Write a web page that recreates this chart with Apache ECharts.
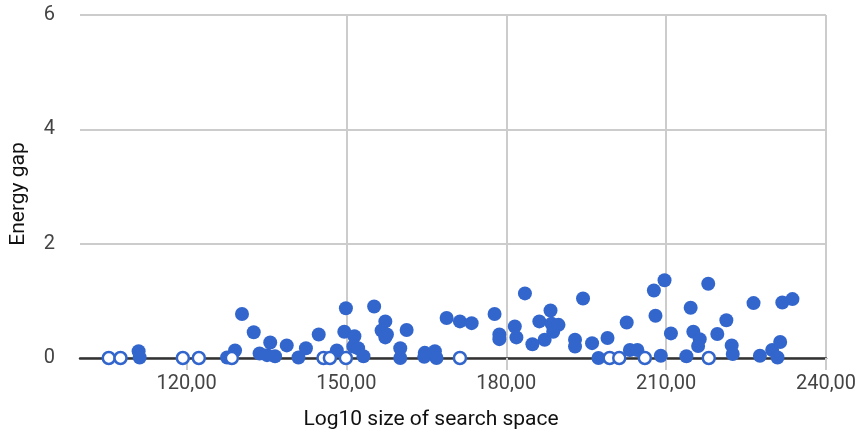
<!DOCTYPE html>
<html>
<head>
<meta charset="utf-8">
<script src="https://cdn.jsdelivr.net/npm/echarts@6/dist/echarts.min.js"></script>
<style>
  html, body { margin: 0; padding: 0; background: #fff; }
  #chart { width: 860px; height: 435px; }
</style>
</head>
<body>
<div id="chart"></div>
<script>
// Instances with a positive energy gap: [log10 search space size, energy gap]
const gapPoints = [
  [111.0, 0.12], [111.2, 0.01], [127.6, 0.01], [129.1, 0.13], [130.4, 0.77],
  [132.6, 0.45], [133.7, 0.08], [135.1, 0.05], [135.7, 0.27], [136.6, 0.03],
  [138.8, 0.22], [141.0, 0.01], [142.4, 0.17], [144.8, 0.41], [148.2, 0.13],
  [149.9, 0.87], [149.6, 0.46], [151.5, 0.38], [151.3, 0.20], [152.2, 0.17],
  [153.2, 0.03], [155.2, 0.90], [157.3, 0.64], [156.6, 0.48], [157.6, 0.41],
  [157.3, 0.36], [161.3, 0.49], [160.1, 0.17], [160.1, 0.00], [164.7, 0.09],
  [164.6, 0.02], [166.6, 0.12], [166.9, 0.00], [168.8, 0.70], [171.3, 0.64],
  [173.5, 0.61], [177.8, 0.77], [178.7, 0.41], [178.7, 0.33], [181.6, 0.55],
  [181.9, 0.36], [183.5, 1.13], [184.9, 0.24], [186.2, 0.64], [187.2, 0.32],
  [188.3, 0.83], [188.5, 0.60], [189.8, 0.58], [188.8, 0.46], [192.9, 0.32],
  [192.9, 0.20], [194.4, 1.04], [196.1, 0.26], [199.0, 0.35], [197.3, 0.00],
  [202.6, 0.62], [203.2, 0.14], [204.6, 0.14], [207.7, 1.18], [208.0, 0.74],
  [209.0, 0.04], [209.7, 1.36], [210.9, 0.43], [213.8, 0.03], [214.6, 0.88],
  [215.1, 0.46], [216.3, 0.33], [216.0, 0.21], [217.9, 1.30], [219.6, 0.42],
  [221.3, 0.66], [222.3, 0.22], [222.5, 0.07], [226.4, 0.96], [227.6, 0.04],
  [229.9, 0.14], [231.4, 0.28], [230.9, 0.01], [231.8, 0.97], [233.7, 1.03]
];

// Instances solved exactly (zero gap)
const zeroPoints = [
  [105.4, 0], [107.6, 0], [119.3, 0], [122.3, 0], [128.5, 0],
  [145.7, 0], [146.9, 0], [149.9, 0], [171.3, 0], [199.4, 0],
  [201.2, 0], [206.0, 0], [218.0, 0]
];

// Axis ranges and tick positions
const xRange = [100, 240];
const xTicks = [120, 150, 180, 210, 240];
const yRange = [0, 6];
const yStep = 2;

const xTitle = 'Log10 size of search space';
const yTitle = 'Energy gap';

const BLUE = '#3366CC';
const labelFont = 'Roboto, "Liberation Sans", Arial, sans-serif';

const chart = echarts.init(document.getElementById('chart'), null, { renderer: 'canvas' });

chart.setOption({
  animation: false,
  backgroundColor: '#ffffff',
  grid: { left: 78, right: 34, top: 15, bottom: 75 },
  xAxis: {
    type: 'value',
    min: xRange[0],
    max: xRange[1],
    name: xTitle,
    nameLocation: 'middle',
    nameGap: 51,
    nameTextStyle: { fontFamily: labelFont, fontSize: 21, color: '#111', padding: [0, 44, 0, 0] },
    axisLine: { show: true, onZero: true, lineStyle: { color: '#333', width: 2.5 } },
    axisTick: { show: true, customValues: xTicks, length: 12, lineStyle: { color: '#ccc', width: 2 } },
    axisLabel: {
      customValues: xTicks,
      margin: 16,
      fontFamily: labelFont,
      fontSize: 20,
      color: '#444',
      formatter: v => v.toFixed(2).replace('.', ',')
    },
    splitLine: { show: true, showMinLine: false, lineStyle: { color: '#ccc', width: 2 } }
  },
  yAxis: {
    type: 'value',
    min: yRange[0],
    max: yRange[1],
    interval: yStep,
    name: yTitle,
    nameLocation: 'middle',
    nameGap: 51,
    nameTextStyle: { fontFamily: labelFont, fontSize: 21, color: '#111', padding: [0, 15, 0, 0] },
    axisLine: { show: false },
    axisTick: { show: false },
    axisLabel: { margin: 25, fontFamily: labelFont, fontSize: 20, color: '#444' },
    splitLine: { show: true, lineStyle: { color: '#ccc', width: 2 } }
  },
  series: [
    {
      type: 'scatter',
      data: gapPoints,
      symbol: 'circle',
      symbolSize: 14,
      itemStyle: { color: BLUE, opacity: 1 },
      z: 3
    },
    {
      type: 'scatter',
      data: zeroPoints,
      symbol: 'circle',
      symbolSize: 12,
      itemStyle: { color: '#ffffff', borderColor: BLUE, borderWidth: 2.5, opacity: 1 },
      z: 4
    }
  ]
});
</script>
</body>
</html>
